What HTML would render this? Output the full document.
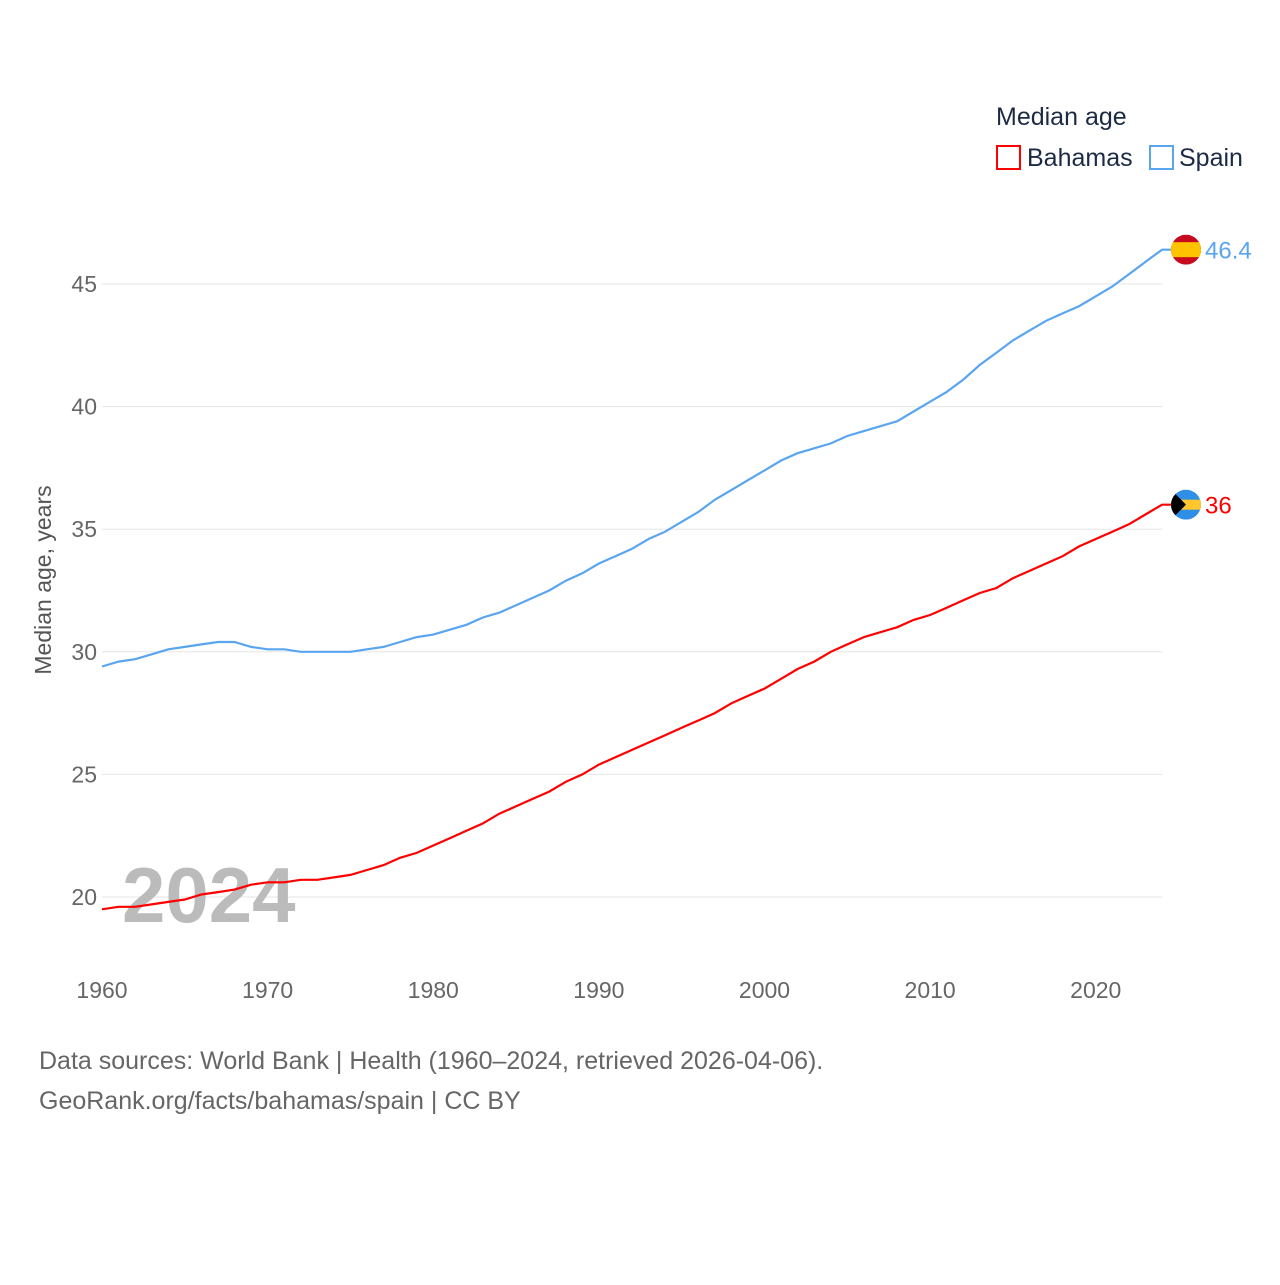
<!DOCTYPE html>
<html><head><meta charset="utf-8"><style>
body{margin:0;background:#fff;font-family:"Liberation Sans",sans-serif;}
svg text{font-family:"Liberation Sans",sans-serif;}
</style></head><body>
<svg width="1280" height="1280" viewBox="0 0 1280 1280">
<text x="996" y="125" font-size="25" fill="#1c2b45">Median age</text>
<g><rect x="997" y="146" width="23" height="23" fill="none" stroke="#f00" stroke-width="2"/><text x="1027" y="166" font-size="25" fill="#1c2b45">Bahamas</text></g>
<g><rect x="1150" y="146" width="23" height="23" fill="none" stroke="#5aa5f0" stroke-width="2"/><text x="1179" y="166" font-size="25" fill="#1c2b45">Spain</text></g>
<g id="grid"></g>
<g id="yticks"></g>
<g id="xticks"></g>
<text transform="translate(51,580) rotate(-90)" text-anchor="middle" font-size="23" fill="#555">Median age, years</text>
<text x="122" y="922" font-size="78" font-weight="bold" fill="#bbb">2024</text>
<g id="series"></g>
<text x="39" y="1069" font-size="25" fill="#666">Data sources: World Bank | Health (1960–2024, retrieved 2026-04-06).</text>
<text x="39" y="1109" font-size="25" fill="#666">GeoRank.org/facts/bahamas/spain | CC BY</text>
</svg>
<script>
const years=[];for(let y=1960;y<=2024;y++)years.push(y);
const spain=[29.4,29.6,29.7,29.9,30.1,30.2,30.3,30.4,30.4,30.2,30.1,30.1,30.0,30.0,30.0,30.0,30.1,30.2,30.4,30.6,30.7,30.9,31.1,31.4,31.6,31.9,32.2,32.5,32.9,33.2,33.6,33.9,34.2,34.6,34.9,35.3,35.7,36.2,36.6,37.0,37.4,37.8,38.1,38.3,38.5,38.8,39.0,39.2,39.4,39.8,40.2,40.6,41.1,41.7,42.2,42.7,43.1,43.5,43.8,44.1,44.5,44.9,45.4,45.9,46.4];
const bahamas=[19.5,19.6,19.6,19.7,19.8,19.9,20.1,20.2,20.3,20.5,20.6,20.6,20.7,20.7,20.8,20.9,21.1,21.3,21.6,21.8,22.1,22.4,22.7,23.0,23.4,23.7,24.0,24.3,24.7,25.0,25.4,25.7,26.0,26.3,26.6,26.9,27.2,27.5,27.9,28.2,28.5,28.9,29.3,29.6,30.0,30.3,30.6,30.8,31.0,31.3,31.5,31.8,32.1,32.4,32.6,33.0,33.3,33.6,33.9,34.3,34.6,34.9,35.2,35.6,36.0];
const yTicks=[20,25,30,35,40,45];
const xTicks=[1960,1970,1980,1990,2000,2010,2020];
const X=v=>102+(v-1960)*16.5625;
const Y=v=>897-(v-20)*24.52;
const NS="http://www.w3.org/2000/svg";
function mk(t,a,p){const e=document.createElementNS(NS,t);for(const k in a)e.setAttribute(k,a[k]);p.appendChild(e);return e;}
const grid=document.getElementById('grid'),yt=document.getElementById('yticks'),xt=document.getElementById('xticks'),ser=document.getElementById('series');
yTicks.forEach(v=>{const l=mk('line',{x1:102,x2:1162,y1:Y(v),y2:Y(v),stroke:'#e6e6e6','stroke-width':1},grid);


const t=mk('text',{x:97,y:Y(v)+8,'text-anchor':'end','font-size':23,fill:'#666'},yt);t.textContent=v;

});
xTicks.forEach(v=>{const t=mk('text',{x:X(v),y:998,'text-anchor':'middle','font-size':23,fill:'#666'},xt);t.textContent=v;

});
function line(d,c,name){const p=mk('path',{d:d.map((v,i)=>(i?'L':'M')+X(years[i]).toFixed(1)+','+Y(v).toFixed(1)).join('')+'h10',fill:'none',stroke:c,'stroke-width':2.2},ser);

}
line(spain,'#5aa5f0','spain');line(bahamas,'#f00','bahamas');
// flags and end labels
function flag(v,kind,c){const cy=Y(v),cx=1186;const g=mk('g',{},ser);


const id='c'+kind;const cp=mk('clipPath',{id:id},g);mk('circle',{cx:cx,cy:cy,r:15},cp);
const gg=mk('g',{'clip-path':'url(#'+id+')'},g);
if(kind==='spain'){mk('rect',{x:cx-15,y:cy-15,width:30,height:30,fill:'#c60b1e'},gg);mk('rect',{x:cx-15,y:cy-7.5,width:30,height:15,fill:'#ffc400'},gg);}
else{mk('rect',{x:cx-15,y:cy-15,width:30,height:30,fill:'#2f8fe6'},gg);mk('rect',{x:cx-15,y:cy-5,width:30,height:10,fill:'#ffc72c'},gg);mk('polygon',{points:`${cx-15},${cy-15} ${cx},${cy} ${cx-15},${cy+15}`,fill:'#000'},gg);}
const t=mk('text',{x:1205,y:cy+9,'font-size':24,fill:c},ser);t.textContent=v;

}
flag(spain[spain.length-1],'spain','#5aa5f0');flag(bahamas[bahamas.length-1],'bahamas','#f00');
</script>
</body></html>
